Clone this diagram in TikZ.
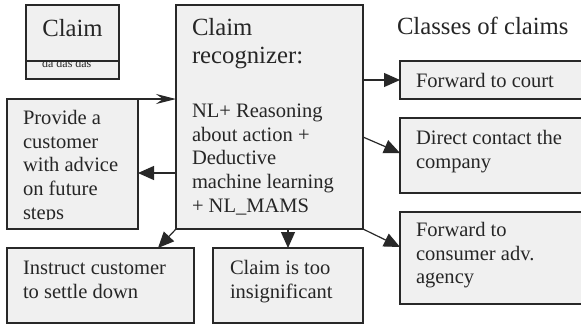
\documentclass[tikz,border=0pt]{standalone}
\usepackage{fontspec}
\setmainfont{Liberation Serif}
\usetikzlibrary{arrows.meta,calc}
\definecolor{boxfill}{RGB}{240,240,240}
\definecolor{edge}{RGB}{40,40,40}
\newcommand\bodyfnt{\fontsize{20.6pt}{23.6pt}\selectfont}
\newcommand\hdrfnt{\fontsize{24.8pt}{28pt}\selectfont}
\tikzset{
  box/.style={draw=edge, fill=boxfill, line width=1.2bp, anchor=north west, inner sep=0pt, outer sep=0pt},
  txt/.style={anchor=north west, inner sep=0pt, outer sep=0pt, align=left, font=\bodyfnt, text=black!85},
  boxline/.style={draw=edge, line width=1.2bp},
  arr/.style={draw=edge, line width=1.2bp, -{Triangle[length=16bp,width=14bp]}},
  openarr/.style={draw=edge, line width=1.2bp, -{Stealth[length=20bp,width=10bp,inset=7bp]}}
}
\begin{document}
\begin{tikzpicture}[x=1bp, y={(0bp,-1bp)}]
\fill[white] (0,0) rectangle (581,325);
\useasboundingbox (0,0) rectangle (581,325);
\clip (0,0) rectangle (581,325);

% Claim box
\node[box, minimum width=93bp, minimum height=74bp] (claimbox) at (26,5) {};
\coordinate (divL) at (26,61);
\coordinate (divR) at (119,61);
\draw[boxline] (divL) -- (divR);
\node[anchor=base, inner sep=0pt, font=\hdrfnt, text=black!85] (claimtxt) at (72.5,36) {Claim};
\begin{scope}
  \clip (27,61.6) rectangle (118,78);
  \node[anchor=base west, inner sep=0pt, font=\fontsize{12pt}{14pt}\selectfont, text=black!85] (datxt) at (42,67) {da das das};
\end{scope}

% central box
\node[box, minimum width=187bp, minimum height=224bp] (rec) at (176,5) {};
\node[txt, font=\hdrfnt] (rectitle) at (192,16.4) {\strut Claim\\recognizer:};
\node[txt] (recbody) at (192,101.5) {\strut NL+ Reasoning\\about action +\\Deductive\\machine learning\\+ NL\_MAMS};

% heading
\node[txt, font=\hdrfnt] (classes) at (397,15.4) {\strut Classes of claims};

% left boxes
\node[box, minimum width=131bp, minimum height=130bp] (provide) at (7,99) {};
\begin{scope}
  \clip (8,100) rectangle (137,219.5);
  \node[txt] (providetxt) at (23,108.5) {\strut Provide a\\customer\\with advice\\on future\\steps};
\end{scope}

\node[box, minimum width=187bp, minimum height=75bp] (instruct) at (7,248) {};
\node[txt] (instructtxt) at (23,258.5) {\strut Instruct customer\\to settle down};

\node[box, minimum width=150bp, minimum height=75bp] (insig) at (213,248) {};
\node[txt] (insigtxt) at (230,258.5) {\strut Claim is too\\insignificant};

% right boxes
\node[box, minimum width=200bp, minimum height=38bp] (court) at (400,61) {};
\node[txt] (courttxt) at (416,71.5) {\strut Forward to court};

\node[box, minimum width=200bp, minimum height=75bp] (direct) at (400,118) {};
\node[txt] (directtxt) at (416,128.5) {\strut Direct contact the\\company};

\node[box, minimum width=200bp, minimum height=92bp] (consumer) at (400,212) {};
\node[txt] (consumertxt) at (416,220.5) {\strut Forward to\\consumer adv.\\agency};

% connectors
\draw[openarr] (provide.north west) -- (provide.north west -| rec.west);
\coordinate (recL) at ($(rec.north west)+(0,168)$);
\draw[arr] (recL) -- (recL -| provide.east);
\draw[arr] (rec.south west) -- ($(instruct.north west)+(151,0)$);
\draw[arr] (insig.north |- rec.south) -- (insig.north);
\draw[arr] (rec.east |- court.west) -- (court.west);
\coordinate (recR) at ($(rec.north east)+(0,132)$);
\draw[arr] (recR) -- ($(direct.north west)+(0,35)$);
\draw[arr] (rec.south east) -- ($(consumer.north west)+(0,35)$);
\end{tikzpicture}
\end{document}
